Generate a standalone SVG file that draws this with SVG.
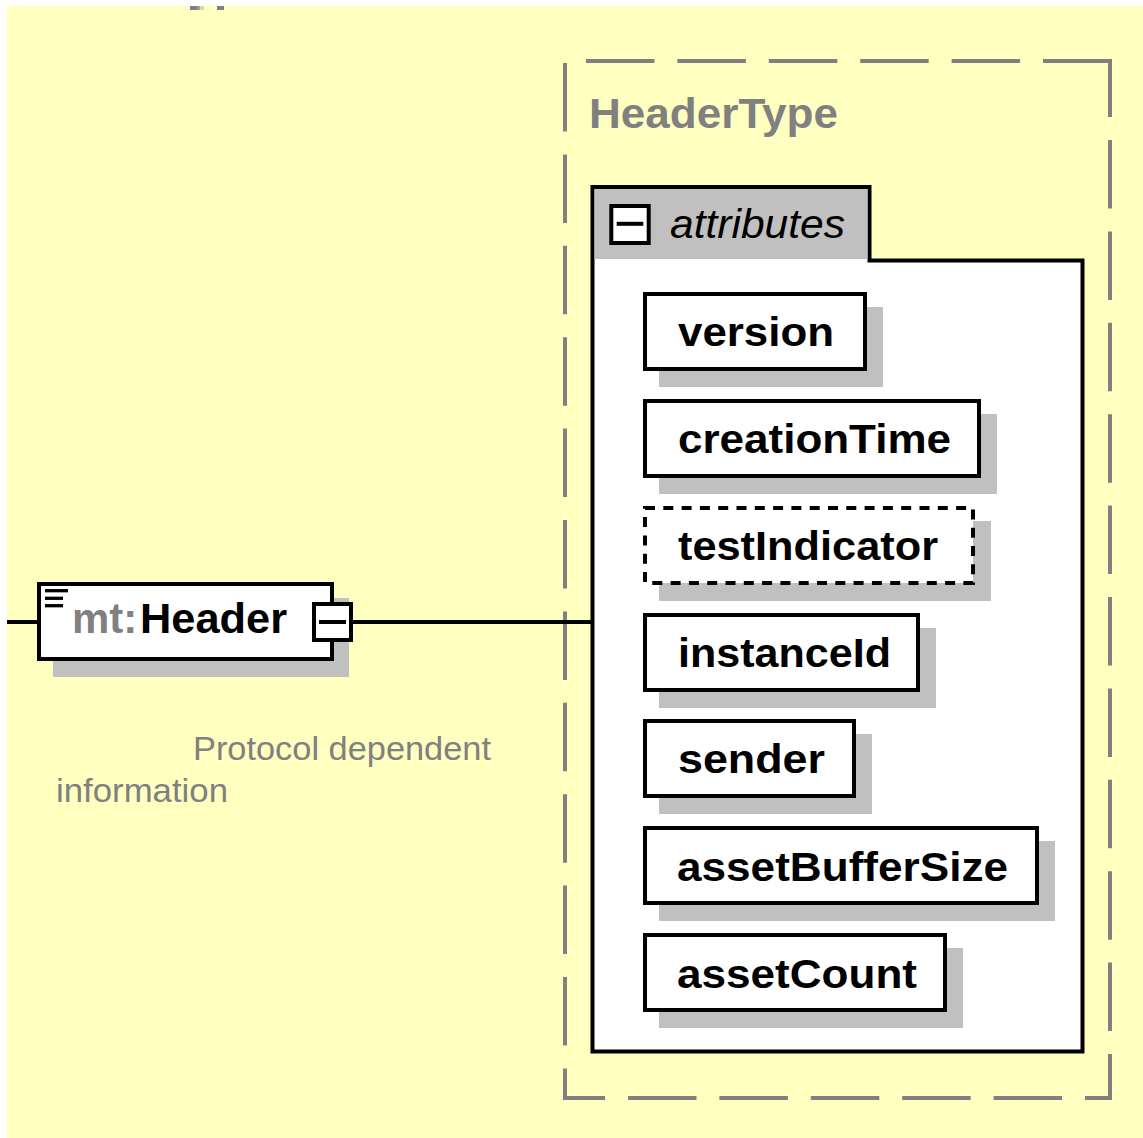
<svg xmlns="http://www.w3.org/2000/svg" width="1143" height="1138" viewBox="0 0 1143 1138">
  <style>
    .bg { fill: #FFFFC0; }
    .shadow { fill: #C0C0C0; }
    .box { fill: #FFFFFF; stroke: #000000; stroke-width: 4; }
    .opt { stroke-dasharray: 10 8.3; }
    .wire { stroke: #000000; stroke-width: 4; fill: none; }
    .frame { stroke: #808080; stroke-width: 4; fill: none; stroke-dasharray: 68.5 22.9; }
    .name { font-family: "Liberation Sans", Arial, sans-serif; font-weight: bold; font-size: 40px; fill: #000000; }
    .type { font-family: "Liberation Sans", Arial, sans-serif; font-weight: bold; font-size: 43px; fill: #808080; }
    .group { font-family: "Liberation Sans", Arial, sans-serif; font-style: italic; font-size: 40px; fill: #000000; }
    .doc { font-family: "Liberation Sans", Arial, sans-serif; font-size: 34px; fill: #808080; }
  </style>

  <!-- canvas -->
  <rect x="0" y="0" width="1143" height="1138" fill="#FFFFFF"/>
  <rect class="bg" x="7" y="6" width="1136" height="1132"/>

  <!-- clipped remains of a node above the view -->
  <g id="offscreen-stub">
    <rect x="190" y="6" width="7" height="4" fill="#808080"/>
    <rect x="197" y="6" width="3" height="4" fill="#A0A090"/>
    <rect x="200" y="6" width="4" height="4" fill="#DADAA8"/>
    <rect x="217" y="6" width="7" height="4" fill="#808080"/>
  </g>

  <!-- complex type frame -->
  <g id="HeaderType">
    <line class="frame" x1="586" y1="61" x2="1112" y2="61"/>
    <line class="frame" x1="1110" y1="59" x2="1110" y2="1100" stroke-dashoffset="10.4"/>
    <line class="frame" x1="565" y1="63" x2="565" y2="1100"/>
    <line class="frame" x1="563" y1="1098" x2="1112" y2="1098" stroke-dashoffset="26.4"/>
    <text class="type" x="589" y="128" textLength="249" lengthAdjust="spacingAndGlyphs">HeaderType</text>
  </g>

  <!-- connectors -->
  <g id="connectors">
    <line class="wire" x1="7" y1="622" x2="38" y2="622"/>
    <line class="wire" x1="351" y1="622" x2="593" y2="622"/>
  </g>

  <!-- element mt:Header -->
  <g id="mt-Header">
    <rect class="shadow" x="53" y="598" width="296" height="79"/>
    <rect class="box" x="39" y="584" width="293" height="75"/>
    <line x1="45" y1="590.7" x2="68" y2="590.7" stroke="#000" stroke-width="3.3"/>
    <line x1="45" y1="598.3" x2="63" y2="598.3" stroke="#000" stroke-width="3.3"/>
    <line x1="45" y1="605.7" x2="63" y2="605.7" stroke="#000" stroke-width="3.3"/>
    <text class="name" style="font-size:42px" y="633"><tspan x="72" fill="#808080">mt:</tspan><tspan x="140" textLength="147" lengthAdjust="spacingAndGlyphs">Header</tspan></text>
    <rect class="box" x="314" y="604" width="37" height="36"/>
    <line x1="319" y1="622" x2="346" y2="622" stroke="#000" stroke-width="4"/>
  </g>

  <!-- annotation -->
  <g id="doc">
    <text class="doc" x="193" y="760" textLength="298" lengthAdjust="spacingAndGlyphs">Protocol dependent</text>
    <text class="doc" x="56" y="802" textLength="172" lengthAdjust="spacingAndGlyphs">information</text>
  </g>

  <!-- attribute group -->
  <g id="attributes">
    <path d="M592.5,187 H869.5 V260.5 H1082.5 V1051.5 H592.5 Z" fill="#FFFFFF" stroke="#000" stroke-width="4"/>
    <rect class="shadow" x="594.5" y="189" width="273" height="70"/>
    <rect class="box" x="611.3" y="206" width="37.4" height="37"/>
    <line x1="616.7" y1="223.8" x2="643.3" y2="223.8" stroke="#000" stroke-width="4"/>
    <text class="group" x="670" y="238" textLength="175" lengthAdjust="spacingAndGlyphs">attributes</text>
  </g>

  <g id="version">
    <rect class="shadow" x="659" y="307" width="224" height="80"/>
    <rect class="box" x="645" y="294" width="220" height="75"/>
    <text class="name" x="678" y="345.5" textLength="156" lengthAdjust="spacingAndGlyphs">version</text>
  </g>

  <g id="creationTime">
    <rect class="shadow" x="659" y="414" width="338" height="80"/>
    <rect class="box" x="645" y="401" width="334" height="75"/>
    <text class="name" x="678" y="452.5" textLength="273" lengthAdjust="spacingAndGlyphs">creationTime</text>
  </g>

  <g id="testIndicator">
    <rect class="shadow" x="659" y="521" width="332" height="80"/>
    <rect class="box opt" x="645" y="508" width="328" height="75"/>
    <text class="name" x="678" y="559.5" textLength="260" lengthAdjust="spacingAndGlyphs">testIndicator</text>
  </g>

  <g id="instanceId">
    <rect class="shadow" x="659" y="628" width="277" height="80"/>
    <rect class="box" x="645" y="615" width="273" height="75"/>
    <text class="name" x="678" y="666.5" textLength="213" lengthAdjust="spacingAndGlyphs">instanceId</text>
  </g>

  <g id="sender">
    <rect class="shadow" x="659" y="734" width="213" height="80"/>
    <rect class="box" x="645" y="721" width="209" height="75"/>
    <text class="name" x="678" y="772.5" textLength="147" lengthAdjust="spacingAndGlyphs">sender</text>
  </g>

  <g id="assetBufferSize">
    <rect class="shadow" x="659" y="841" width="396" height="80"/>
    <rect class="box" x="645" y="828" width="392" height="75"/>
    <text class="name" x="677" y="880.5" textLength="331" lengthAdjust="spacingAndGlyphs">assetBufferSize</text>
  </g>

  <g id="assetCount">
    <rect class="shadow" x="659" y="948" width="304" height="80"/>
    <rect class="box" x="645" y="935" width="300" height="75"/>
    <text class="name" x="677" y="987.5" textLength="240" lengthAdjust="spacingAndGlyphs">assetCount</text>
  </g>
</svg>
